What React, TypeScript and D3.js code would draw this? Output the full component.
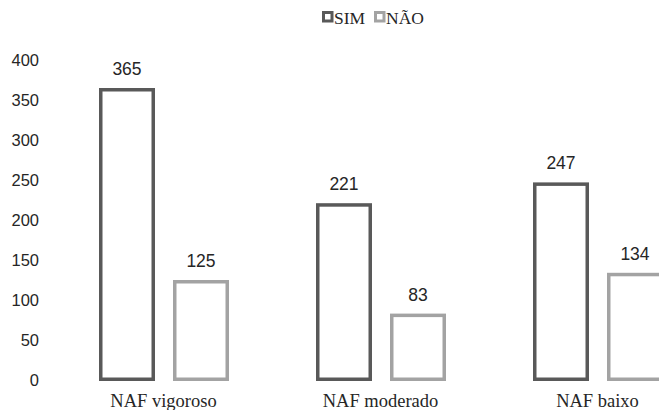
import React from "react";
import * as d3 from "d3";

const categories = ["NAF vigoroso", "NAF moderado", "NAF baixo"];
const seriesNames = ["SIM", "NÃO"];
const simValues = [365, 221, 247];
const naoValues = [125, 83, 134];
const yTicks = [0, 50, 100, 150, 200, 250, 300, 350, 400];

const W = 659;
const H = 410;
const colors: Record<string, string> = { SIM: "#595959", "NÃO": "#a3a3a3" };
const textColor = "#262626";
const sans = "'Liberation Sans', Arial, sans-serif";
const serif = "'Liberation Serif', 'Times New Roman', serif";

export default function App() {
  const y = d3.scaleLinear().domain([0, 400]).range([380, 60]);
  const x0 = d3.scaleBand<string>().domain(categories).range([55.5, 55.5 + 3 * 217]).padding(0);
  const x1 = d3
    .scaleBand<string>()
    .domain(seriesNames)
    .range([43.5, 173.5])
    .paddingInner(18 / 74)
    .paddingOuter(0);
  const sw = 3.5;
  const data = categories.map((c, i) => ({ cat: c, vals: [simValues[i], naoValues[i]] }));
  const legendX = [322, 374];

  return (
    <svg
      width={W}
      height={H}
      style={{ position: "absolute", left: 0, top: 0, background: "#fff" }}
    >
      <rect width={W} height={H} fill="#fff" />
      {yTicks.map((t) => (
        <text
          key={t}
          x={39}
          y={y(t)}
          dy="0.36em"
          textAnchor="end"
          fontFamily={sans}
          fontSize={16.5}
          fill={textColor}
        >
          {t}
        </text>
      ))}
      {data.map((d) => (
        <g key={d.cat} transform={`translate(${x0(d.cat)},0)`}>
          {seriesNames.map((s, j) => {
            const bx = (x1(s) as number) + sw / 2;
            const bw = x1.bandwidth() - sw;
            const top = y(d.vals[j]) + sw / 2;
            const bottom = y(0) - sw / 2 + 1;
            return (
              <g key={s}>
                <rect
                  x={bx}
                  y={top}
                  width={bw}
                  height={bottom - top}
                  fill="#fff"
                  stroke={colors[s]}
                  strokeWidth={sw}
                />
                <text
                  x={(x1(s) as number) + x1.bandwidth() / 2}
                  y={y(d.vals[j]) - 13}
                  textAnchor="middle"
                  fontFamily={sans}
                  fontSize={17.5}
                  fill={textColor}
                >
                  {d.vals[j]}
                </text>
              </g>
            );
          })}
          <text
            x={x0.bandwidth() / 2 - 0.5}
            y={407}
            textAnchor="middle"
            fontFamily={serif}
            fontSize={18.5}
            fill={textColor}
          >
            {d.cat}
          </text>
        </g>
      ))}
      <g>
        {seriesNames.map((s, i) => {
          const sx = legendX[i];
          return (
            <g key={s}>
              <rect x={sx + 1.5} y={12.5} width={8.5} height={8.5} fill="#fff" stroke={colors[s]} strokeWidth={3} />
              <text x={sx + 12} y={23.5} fontFamily={serif} fontSize={17.5} fill={textColor}>
                {s}
              </text>
            </g>
          );
        })}
      </g>
    </svg>
  );
}
